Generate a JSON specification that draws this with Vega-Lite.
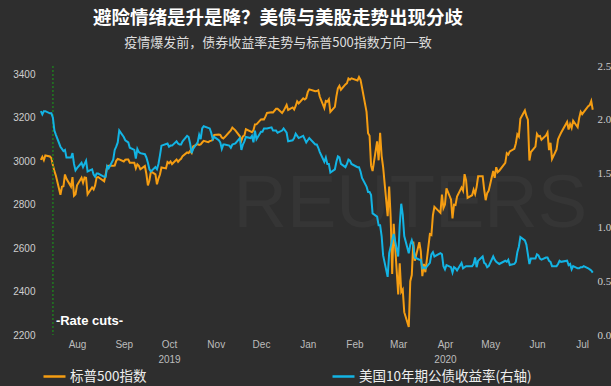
{
  "$schema": "https://vega.github.io/schema/vega-lite/v6.json",
  "autosize": {"type": "none"},
  "width": 558,
  "height": 269,
  "padding": {"left": 37, "top": 66, "right": 16, "bottom": 51},
  "background": "#2e2e2e",
  "config": {
    "view": {"stroke": null},
    "axis": {"grid": false, "domain": false, "ticks": false, "labelColor": "#cfcfcf", "labelFont": "Liberation Sans", "labelFontSize": 10},
    "legend": {"orient": "none", "legendX": 5, "legendY": 298, "direction": "horizontal", "symbolType": "stroke", "symbolSize": 484, "symbolStrokeWidth": 2.5, "labelFont": "Noto Sans CJK SC", "labelFontSize": 13.5, "labelColor": "#eeeeee", "labelOffset": 3, "columnPadding": 180, "padding": 0, "labelLimit": 400}
  },
  "title": {
    "text": "避险情绪是升是降？美债与美股走势出现分歧",
    "subtitle": "疫情爆发前，债券收益率走势与标普500指数方向一致",
    "font": "Noto Sans CJK SC", "fontSize": 18.5, "fontWeight": "bold", "color": "#ffffff",
    "subtitleFont": "Noto Sans CJK SC", "subtitleFontSize": 13, "subtitleColor": "#dddddd", "subtitlePadding": 10,
    "anchor": "middle", "offset": 10, "dx": -38
  },
  "datasets": {
    "main": [
      {"d":"2019-07-23","s":3005.47,"y":2.08},{"d":"2019-07-24","s":3019.56,"y":2.05},{"d":"2019-07-25","s":3003.67,"y":2.08},{"d":"2019-07-26","s":3025.86,"y":2.08},
      {"d":"2019-07-29","s":3020.97,"y":2.06},{"d":"2019-07-30","s":3013.18,"y":2.06},{"d":"2019-07-31","s":2980.38,"y":2.02},{"d":"2019-08-01","s":2953.56,"y":1.90},
      {"d":"2019-08-02","s":2932.05,"y":1.86},{"d":"2019-08-05","s":2844.74,"y":1.75},{"d":"2019-08-06","s":2881.77,"y":1.73},{"d":"2019-08-07","s":2883.98,"y":1.71},
      {"d":"2019-08-08","s":2938.09,"y":1.72},{"d":"2019-08-09","s":2918.65,"y":1.65},{"d":"2019-08-12","s":2882.70,"y":1.65},{"d":"2019-08-13","s":2926.32,"y":1.69},
      {"d":"2019-08-14","s":2840.60,"y":1.59},{"d":"2019-08-15","s":2847.60,"y":1.53},{"d":"2019-08-16","s":2888.68,"y":1.55},{"d":"2019-08-19","s":2923.65,"y":1.60},
      {"d":"2019-08-20","s":2900.51,"y":1.56},{"d":"2019-08-21","s":2924.43,"y":1.59},{"d":"2019-08-22","s":2922.95,"y":1.62},{"d":"2019-08-23","s":2847.11,"y":1.52},
      {"d":"2019-08-26","s":2878.38,"y":1.54},{"d":"2019-08-27","s":2869.16,"y":1.49},{"d":"2019-08-28","s":2887.94,"y":1.47},{"d":"2019-08-29","s":2924.58,"y":1.50},
      {"d":"2019-08-30","s":2926.46,"y":1.50},{"d":"2019-09-03","s":2906.27,"y":1.47},{"d":"2019-09-04","s":2937.78,"y":1.47},{"d":"2019-09-05","s":2976.00,"y":1.57},
      {"d":"2019-09-06","s":2978.71,"y":1.55},{"d":"2019-09-09","s":2978.43,"y":1.63},{"d":"2019-09-10","s":2979.39,"y":1.72},{"d":"2019-09-11","s":3000.93,"y":1.75},
      {"d":"2019-09-12","s":3009.57,"y":1.79},{"d":"2019-09-13","s":3007.39,"y":1.90},{"d":"2019-09-16","s":2997.96,"y":1.84},{"d":"2019-09-17","s":3005.70,"y":1.81},
      {"d":"2019-09-18","s":3006.73,"y":1.80},{"d":"2019-09-19","s":3006.79,"y":1.79},{"d":"2019-09-20","s":2992.07,"y":1.74},{"d":"2019-09-23","s":2991.78,"y":1.72},
      {"d":"2019-09-24","s":2966.60,"y":1.64},{"d":"2019-09-25","s":2984.87,"y":1.73},{"d":"2019-09-26","s":2977.62,"y":1.70},{"d":"2019-09-27","s":2961.79,"y":1.69},
      {"d":"2019-09-30","s":2976.74,"y":1.68},{"d":"2019-10-01","s":2940.25,"y":1.65},{"d":"2019-10-02","s":2887.61,"y":1.60},{"d":"2019-10-03","s":2910.63,"y":1.54},
      {"d":"2019-10-04","s":2952.01,"y":1.52},{"d":"2019-10-07","s":2938.79,"y":1.56},{"d":"2019-10-08","s":2893.06,"y":1.54},{"d":"2019-10-09","s":2919.40,"y":1.59},
      {"d":"2019-10-10","s":2938.13,"y":1.67},{"d":"2019-10-11","s":2970.27,"y":1.76},{"d":"2019-10-14","s":2966.15},{"d":"2019-10-15","s":2995.68,"y":1.78},
      {"d":"2019-10-16","s":2989.69,"y":1.75},{"d":"2019-10-17","s":2997.95,"y":1.76},{"d":"2019-10-18","s":2986.20,"y":1.76},{"d":"2019-10-21","s":3006.72,"y":1.80},
      {"d":"2019-10-22","s":2995.99,"y":1.78},{"d":"2019-10-23","s":3004.52,"y":1.77},{"d":"2019-10-24","s":3010.29,"y":1.77},{"d":"2019-10-25","s":3022.55,"y":1.80},
      {"d":"2019-10-28","s":3039.42,"y":1.85},{"d":"2019-10-29","s":3036.89,"y":1.84},{"d":"2019-10-30","s":3046.77,"y":1.78},{"d":"2019-10-31","s":3037.56,"y":1.69},
      {"d":"2019-11-01","s":3066.91,"y":1.73},{"d":"2019-11-04","s":3078.27,"y":1.79},{"d":"2019-11-05","s":3074.62,"y":1.86},{"d":"2019-11-06","s":3076.78,"y":1.82},
      {"d":"2019-11-07","s":3085.18,"y":1.92},{"d":"2019-11-08","s":3093.08,"y":1.94},{"d":"2019-11-11","s":3087.01},{"d":"2019-11-12","s":3091.84,"y":1.92},
      {"d":"2019-11-13","s":3094.04,"y":1.88},{"d":"2019-11-14","s":3096.63,"y":1.82},{"d":"2019-11-15","s":3120.46,"y":1.84},{"d":"2019-11-18","s":3122.03,"y":1.81},
      {"d":"2019-11-19","s":3120.18,"y":1.79},{"d":"2019-11-20","s":3108.46,"y":1.73},{"d":"2019-11-21","s":3103.54,"y":1.77},{"d":"2019-11-22","s":3110.29,"y":1.77},
      {"d":"2019-11-25","s":3133.64,"y":1.76},{"d":"2019-11-26","s":3140.52,"y":1.74},{"d":"2019-11-27","s":3153.63,"y":1.77},{"d":"2019-11-29","s":3140.98,"y":1.78},
      {"d":"2019-12-02","s":3113.87,"y":1.83},{"d":"2019-12-03","s":3093.20,"y":1.72},{"d":"2019-12-04","s":3112.76,"y":1.77},{"d":"2019-12-05","s":3117.43,"y":1.80},
      {"d":"2019-12-06","s":3145.91,"y":1.84},{"d":"2019-12-09","s":3135.96,"y":1.83},{"d":"2019-12-10","s":3132.52,"y":1.85},{"d":"2019-12-11","s":3141.63,"y":1.79},
      {"d":"2019-12-12","s":3168.57,"y":1.90},{"d":"2019-12-13","s":3168.80,"y":1.82},{"d":"2019-12-16","s":3191.45,"y":1.89},{"d":"2019-12-17","s":3192.52,"y":1.89},
      {"d":"2019-12-18","s":3191.14,"y":1.92},{"d":"2019-12-19","s":3205.37,"y":1.92},{"d":"2019-12-20","s":3221.22,"y":1.92},{"d":"2019-12-23","s":3224.01,"y":1.93},
      {"d":"2019-12-24","s":3223.38,"y":1.90},{"d":"2019-12-26","s":3239.91,"y":1.90},{"d":"2019-12-27","s":3240.02,"y":1.88},{"d":"2019-12-30","s":3221.29,"y":1.90},
      {"d":"2019-12-31","s":3230.78,"y":1.92},{"d":"2020-01-02","s":3257.85,"y":1.88},{"d":"2020-01-03","s":3234.85,"y":1.80},{"d":"2020-01-06","s":3246.28,"y":1.81},
      {"d":"2020-01-07","s":3237.18,"y":1.83},{"d":"2020-01-08","s":3253.05,"y":1.87},{"d":"2020-01-09","s":3274.70,"y":1.85},{"d":"2020-01-10","s":3265.35,"y":1.83},
      {"d":"2020-01-13","s":3288.13,"y":1.85},{"d":"2020-01-14","s":3283.15,"y":1.82},{"d":"2020-01-15","s":3289.29,"y":1.79},{"d":"2020-01-16","s":3316.81,"y":1.81},
      {"d":"2020-01-17","s":3329.62,"y":1.83},{"d":"2020-01-21","s":3320.79,"y":1.77},{"d":"2020-01-22","s":3321.75,"y":1.77},{"d":"2020-01-23","s":3325.54,"y":1.74},
      {"d":"2020-01-24","s":3295.47,"y":1.70},{"d":"2020-01-27","s":3243.63,"y":1.61},{"d":"2020-01-28","s":3276.24,"y":1.65},{"d":"2020-01-29","s":3273.40,"y":1.59},
      {"d":"2020-01-30","s":3283.66,"y":1.59},{"d":"2020-01-31","s":3225.52,"y":1.51},{"d":"2020-02-03","s":3248.92,"y":1.54},{"d":"2020-02-04","s":3297.59,"y":1.61},
      {"d":"2020-02-05","s":3334.69,"y":1.66},{"d":"2020-02-06","s":3345.78,"y":1.65},{"d":"2020-02-07","s":3327.71,"y":1.59},{"d":"2020-02-10","s":3352.09,"y":1.56},
      {"d":"2020-02-11","s":3357.75,"y":1.59},{"d":"2020-02-12","s":3379.45,"y":1.63},{"d":"2020-02-13","s":3373.94,"y":1.62},{"d":"2020-02-14","s":3380.16,"y":1.59},
      {"d":"2020-02-18","s":3370.29,"y":1.56},{"d":"2020-02-19","s":3386.15,"y":1.56},{"d":"2020-02-20","s":3373.23,"y":1.52},{"d":"2020-02-21","s":3337.75,"y":1.46},
      {"d":"2020-02-24","s":3225.89,"y":1.38},{"d":"2020-02-25","s":3128.21,"y":1.33},{"d":"2020-02-26","s":3116.39,"y":1.33},{"d":"2020-02-27","s":2978.76,"y":1.30},
      {"d":"2020-02-28","s":2954.22,"y":1.13},{"d":"2020-03-02","s":3090.23,"y":1.10},{"d":"2020-03-03","s":3003.37,"y":1.02},{"d":"2020-03-04","s":3130.12,"y":1.02},
      {"d":"2020-03-05","s":3023.94,"y":0.92},{"d":"2020-03-06","s":2972.37,"y":0.74},{"d":"2020-03-09","s":2746.56,"y":0.54},{"d":"2020-03-10","s":2882.23,"y":0.76},
      {"d":"2020-03-11","s":2741.38,"y":0.82},{"d":"2020-03-12","s":2480.64,"y":0.88},{"d":"2020-03-13","s":2711.02,"y":0.94},{"d":"2020-03-16","s":2386.13,"y":0.73},
      {"d":"2020-03-17","s":2529.19,"y":1.02},{"d":"2020-03-18","s":2398.10,"y":1.22},{"d":"2020-03-19","s":2409.39,"y":1.12},{"d":"2020-03-20","s":2304.92,"y":0.92},
      {"d":"2020-03-23","s":2237.40,"y":0.76},{"d":"2020-03-24","s":2447.33,"y":0.84},{"d":"2020-03-25","s":2475.56,"y":0.88},{"d":"2020-03-26","s":2630.07,"y":0.83},
      {"d":"2020-03-27","s":2541.47,"y":0.72},{"d":"2020-03-30","s":2626.65,"y":0.70},{"d":"2020-03-31","s":2584.59,"y":0.70},{"d":"2020-04-01","s":2470.50,"y":0.62},
      {"d":"2020-04-02","s":2526.90,"y":0.63},{"d":"2020-04-03","s":2488.65,"y":0.62},{"d":"2020-04-06","s":2663.68,"y":0.67},{"d":"2020-04-07","s":2659.41,"y":0.75},
      {"d":"2020-04-08","s":2749.98,"y":0.77},{"d":"2020-04-09","s":2789.82,"y":0.73},{"d":"2020-04-13","s":2761.63,"y":0.76},{"d":"2020-04-14","s":2846.06,"y":0.75},
      {"d":"2020-04-15","s":2783.36,"y":0.64},{"d":"2020-04-16","s":2799.55,"y":0.61},{"d":"2020-04-17","s":2874.56,"y":0.65},{"d":"2020-04-20","s":2823.16,"y":0.63},
      {"d":"2020-04-21","s":2736.56,"y":0.58},{"d":"2020-04-22","s":2799.31,"y":0.63},{"d":"2020-04-23","s":2797.80,"y":0.62},{"d":"2020-04-24","s":2836.74,"y":0.60},
      {"d":"2020-04-27","s":2878.48,"y":0.67},{"d":"2020-04-28","s":2863.39,"y":0.62},{"d":"2020-04-29","s":2939.51,"y":0.63},{"d":"2020-04-30","s":2912.43,"y":0.64},
      {"d":"2020-05-01","s":2830.71,"y":0.64},{"d":"2020-05-04","s":2842.74,"y":0.64},{"d":"2020-05-05","s":2868.44,"y":0.66},{"d":"2020-05-06","s":2848.42,"y":0.72},
      {"d":"2020-05-07","s":2881.19,"y":0.63},{"d":"2020-05-08","s":2929.80,"y":0.69},{"d":"2020-05-11","s":2930.32,"y":0.73},{"d":"2020-05-12","s":2870.12,"y":0.67},
      {"d":"2020-05-13","s":2820.00,"y":0.66},{"d":"2020-05-14","s":2852.50,"y":0.63},{"d":"2020-05-15","s":2863.70,"y":0.64},{"d":"2020-05-18","s":2953.91,"y":0.73},
      {"d":"2020-05-19","s":2922.94,"y":0.70},{"d":"2020-05-20","s":2971.61,"y":0.68},{"d":"2020-05-21","s":2948.51,"y":0.67},{"d":"2020-05-22","s":2955.45,"y":0.66},
      {"d":"2020-05-26","s":2991.77,"y":0.69},{"d":"2020-05-27","s":3036.13,"y":0.68},{"d":"2020-05-28","s":3029.73,"y":0.70},{"d":"2020-05-29","s":3044.31,"y":0.65},
      {"d":"2020-06-01","s":3055.73,"y":0.66},{"d":"2020-06-02","s":3080.82,"y":0.68},{"d":"2020-06-03","s":3122.87,"y":0.77},{"d":"2020-06-04","s":3112.35,"y":0.82},
      {"d":"2020-06-05","s":3193.93,"y":0.91},{"d":"2020-06-08","s":3232.39,"y":0.88},{"d":"2020-06-09","s":3207.18,"y":0.84},{"d":"2020-06-10","s":3190.14,"y":0.75},
      {"d":"2020-06-11","s":3002.10,"y":0.66},{"d":"2020-06-12","s":3041.31,"y":0.71},{"d":"2020-06-15","s":3066.59,"y":0.71},{"d":"2020-06-16","s":3124.74,"y":0.75},
      {"d":"2020-06-17","s":3113.49,"y":0.74},{"d":"2020-06-18","s":3115.34,"y":0.71},{"d":"2020-06-19","s":3097.74,"y":0.70},{"d":"2020-06-22","s":3117.86,"y":0.72},
      {"d":"2020-06-23","s":3131.29,"y":0.72},{"d":"2020-06-24","s":3050.33,"y":0.69},{"d":"2020-06-25","s":3083.76,"y":0.68},{"d":"2020-06-26","s":3009.05,"y":0.64},
      {"d":"2020-06-29","s":3053.24,"y":0.64},{"d":"2020-06-30","s":3100.29,"y":0.66},{"d":"2020-07-01","s":3115.86,"y":0.69},{"d":"2020-07-02","s":3130.01,"y":0.68},
      {"d":"2020-07-06","s":3179.72,"y":0.69},{"d":"2020-07-07","s":3145.32,"y":0.65},{"d":"2020-07-08","s":3169.94,"y":0.66},{"d":"2020-07-09","s":3152.05,"y":0.61},
      {"d":"2020-07-10","s":3185.04,"y":0.64},{"d":"2020-07-13","s":3155.22,"y":0.62},{"d":"2020-07-14","s":3197.52,"y":0.62},{"d":"2020-07-15","s":3226.56,"y":0.63},
      {"d":"2020-07-16","s":3215.57,"y":0.63},{"d":"2020-07-17","s":3224.73,"y":0.64},{"d":"2020-07-20","s":3251.84,"y":0.62},{"d":"2020-07-21","s":3257.30,"y":0.61},
      {"d":"2020-07-22","s":3276.02,"y":0.60},{"d":"2020-07-23","s":3235.66,"y":0.58}
    ]
  },
  "layer": [
    {
      "layer": [
        {
          "data": {"values": [{"d": "2020-03-24", "v": 2800, "t": "REUTERS"}]},
          "mark": {"type": "text", "font": "Liberation Sans", "fontSize": 74, "fill": "#ffffff", "opacity": 0.03, "align": "center", "baseline": "middle"},
          "encoding": {
            "x": {"field": "d", "type": "temporal"},
            "y": {"field": "v", "type": "quantitative"},
            "text": {"field": "t"}
          }
        },
        {
          "data": {"name": "main"},
          "mark": {"type": "line", "strokeWidth": 2},
          "encoding": {
            "x": {
              "field": "d", "type": "temporal", "title": null,
              "scale": {"type": "utc", "domain": [{"year": 2019, "month": 7, "date": 20, "hours": 11, "utc": true}, {"year": 2020, "month": 7, "date": 24, "hours": 12, "utc": true}]},
              "axis": {
                "values": [
                  {"year": 2019, "month": 8, "date": 16, "utc": true}, {"year": 2019, "month": 9, "date": 16, "utc": true},
                  {"year": 2019, "month": 10, "date": 16, "utc": true}, {"year": 2019, "month": 11, "date": 16, "utc": true},
                  {"year": 2019, "month": 12, "date": 16, "utc": true}, {"year": 2020, "month": 1, "date": 16, "utc": true},
                  {"year": 2020, "month": 2, "date": 16, "utc": true}, {"year": 2020, "month": 3, "date": 16, "utc": true},
                  {"year": 2020, "month": 4, "date": 16, "utc": true}, {"year": 2020, "month": 5, "date": 16, "utc": true},
                  {"year": 2020, "month": 6, "date": 16, "utc": true}, {"year": 2020, "month": 7, "date": 16, "utc": true}
                ],
                "labelExpr": "utcmonth(datum.value) == 9 ? [utcFormat(datum.value, '%b'), '2019'] : utcmonth(datum.value) == 3 ? [utcFormat(datum.value, '%b'), '2020'] : utcFormat(datum.value, '%b')",
                "labelPadding": 4, "labelLineHeight": 15, "labelColor": "#bdbdbd"
              }
            },
            "y": {
              "field": "s", "type": "quantitative", "title": null,
              "scale": {"domain": [2200, 3437], "nice": false, "zero": false},
              "axis": {"values": [2200, 2400, 2600, 2800, 3000, 3200, 3400], "labelPadding": 2, "format": "d"}
            },
            "color": {
              "datum": "标普500指数",
              "scale": {"domain": ["标普500指数", "美国10年期公债收益率(右轴)"], "range": ["#f59d12", "#13b4e4"]},
              "legend": {"title": null}
            }
          }
        },
        {
          "data": {"values": [{"d": "2019-07-31", "t": "-Rate cuts-", "v": 2264}]},
          "mark": {"type": "rule", "color": "#1f7a1f", "strokeDash": [2, 2], "strokeWidth": 1.5},
          "encoding": {"x": {"field": "d", "type": "temporal"}}
        },
        {
          "data": {"values": [{"d": "2019-07-31", "t": "-Rate cuts-", "v": 2264}]},
          "mark": {"type": "text", "font": "Liberation Sans", "fontSize": 13, "fontWeight": "bold", "fill": "#ffffff", "align": "left", "baseline": "middle", "dx": 3},
          "encoding": {
            "x": {"field": "d", "type": "temporal"},
            "y": {"field": "v", "type": "quantitative"},
            "text": {"field": "t"}
          }
        }
      ]
    },
    {
      "data": {"name": "main"},
      "transform": [{"filter": "isValid(datum.y)"}],
      "mark": {"type": "line", "strokeWidth": 2},
      "encoding": {
        "x": {"field": "d", "type": "temporal", "title": null},
        "y": {
          "field": "y", "type": "quantitative", "title": null,
          "scale": {"domain": [0, 2.5], "nice": false},
          "axis": {"orient": "right", "values": [0, 0.5, 1, 1.5, 2, 2.5], "format": ".1f", "labelFont": "Liberation Serif", "labelFontSize": 11, "labelPadding": 2}
        },
        "color": {"datum": "美国10年期公债收益率(右轴)"}
      }
    }
  ],
  "resolve": {"scale": {"y": "independent"}}
}
